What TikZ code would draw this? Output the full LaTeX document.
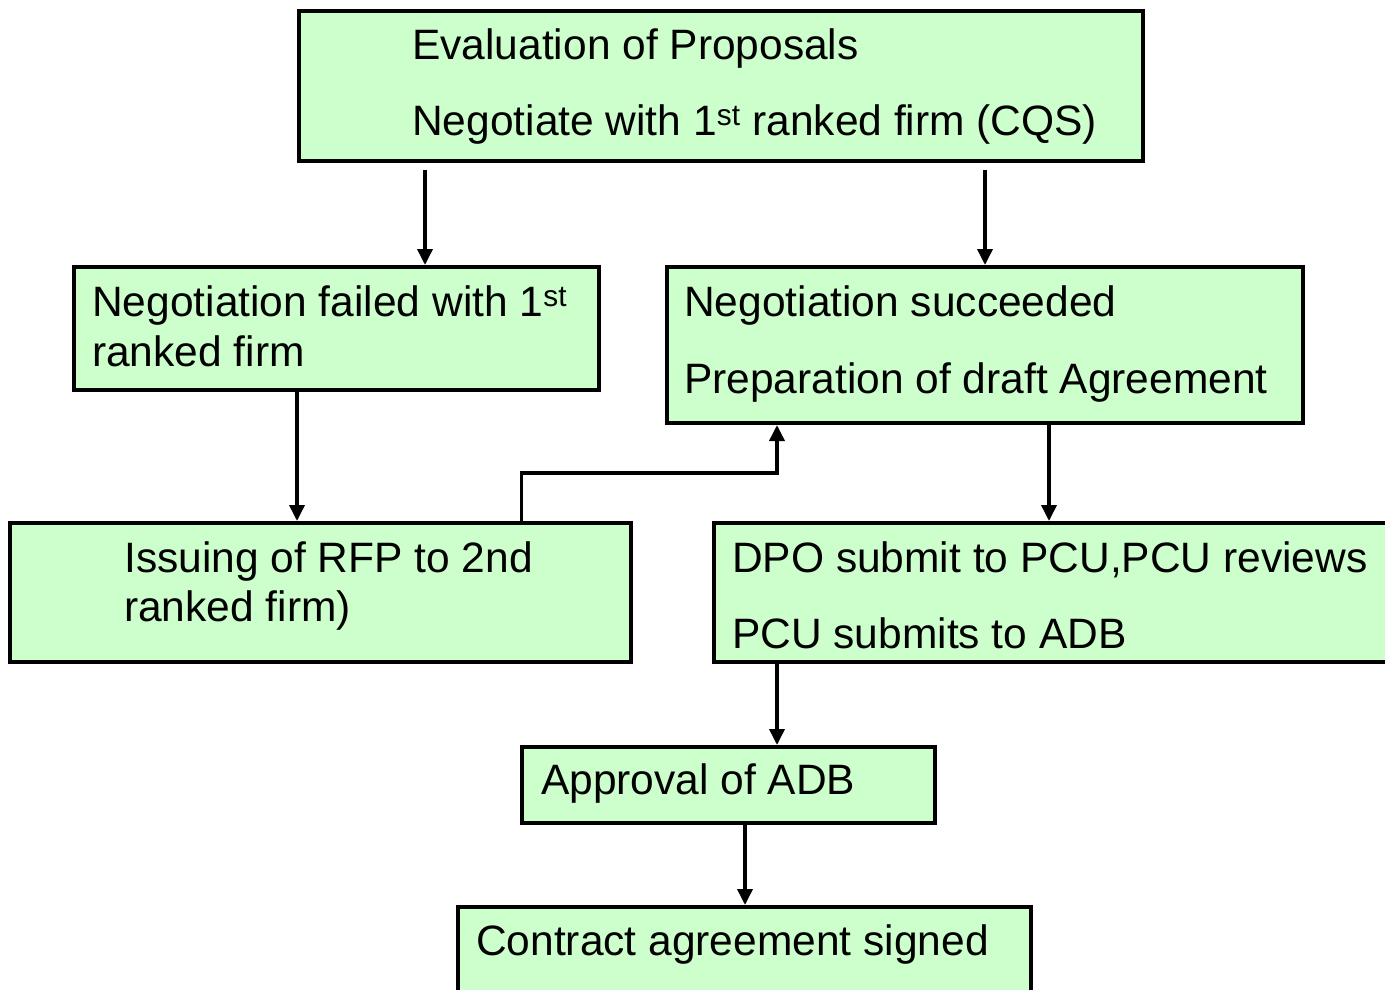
\documentclass[tikz,border=0pt]{standalone}
\usepackage{fontspec}
\setmainfont{Liberation Sans}
\usetikzlibrary{arrows.meta}
\definecolor{boxgreen}{HTML}{CCFFCC}
\begin{document}
\begin{tikzpicture}[x=1pt,y=-1pt,
  box/.style={draw=black, line width=4pt, fill=boxgreen, rectangle, inner sep=0pt},
  txt/.style={anchor=base west, inner sep=0pt, font=\fontsize{42.5}{50}\selectfont},
  arr/.style={line width=3.6pt, -{Triangle[width=15pt,length=16pt]}}]
\useasboundingbox (0,0) rectangle (1385,989);
\clip (0,0) rectangle (1385,989);
% boxes
\node[box, minimum width=844pt, minimum height=150pt] (top)  at (721,86) {};
\node[box, minimum width=525pt, minimum height=123pt] (fail) at (336.5,328.5) {};
\node[box, minimum width=636pt, minimum height=156pt] (succ) at (985,345) {};
\node[box, minimum width=621pt, minimum height=139pt] (iss)  at (320.5,592.5) {};
\node[box, minimum width=686pt, minimum height=139pt] (dpo)  at (1057,592.5) {};
\node[box, minimum width=413pt, minimum height=76pt]  (appr) at (728.5,785) {};
\node[box, minimum width=573pt, minimum height=103pt] (con)  at (744.5,958.5) {};
% texts
\node[txt] (t1) at (412,59.5)  {Evaluation of Proposals};
\node[txt] (t2) at (412,135) {Negotiate with 1\textsuperscript{st} ranked firm (CQS)};
\node[txt] (t3) at (92,316)  {Negotiation failed with 1\textsuperscript{st}};
\node[txt] (t4) at (92,366)  {ranked firm};
\node[txt] (t5) at (684,316.5) {Negotiation succeeded};
\node[txt] (t6) at (684,393) {Preparation of draft Agreement};
\node[txt] (t7) at (124,572) {Issuing of RFP to 2nd};
\node[txt] (t8) at (124,621) {ranked firm)};
\node[txt] (t9) at (732,572) {DPO submit to PCU,PCU reviews};
\node[txt] (t10) at (732,648) {PCU submits to ADB};
\node[txt] (t11) at (541,794.5) {Approval of ADB};
\node[txt] (t12) at (476,955) {Contract agreement signed};
% connector x positions
\coordinate (c1) at (425,0);
\coordinate (c3) at (297,0);
\coordinate (c4) at (521.5,0);
\coordinate (c5) at (777,0);
\coordinate (c6) at (1049,0);
\coordinate (c7) at (745,0);
\coordinate (bend) at (0,473);
% connectors
\draw[arr, shorten <=7pt] (top.south -| c1) -- (fail.north -| c1);
\draw[arr, shorten <=7pt] (top.south -| succ.north) -- (succ.north);
\draw[arr] (fail.south -| c3) -- (iss.north -| c3);
\draw[arr] (iss.north -| c4) |- (bend -| c5) -- (succ.south -| c5);
\draw[arr] (succ.south -| c6) -- (dpo.north -| c6);
\draw[arr] (dpo.south -| c5) -- (appr.north -| c5);
\draw[arr] (appr.south -| c7) -- (con.north -| c7);
\end{tikzpicture}
\end{document}
